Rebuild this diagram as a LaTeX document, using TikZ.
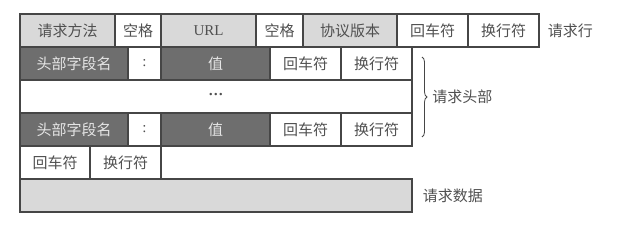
\documentclass[tikz,border=0pt]{standalone}
\usepackage{fontspec}
\setmainfont{Liberation Serif}
\newfontfamily\cjk{Noto Sans CJK SC}
\usetikzlibrary{positioning, decorations.pathreplacing}
\definecolor{linegray}{RGB}{70,70,70}
\definecolor{textgray}{RGB}{80,80,80}
\definecolor{cellgray}{RGB}{217,217,217}
\definecolor{darkcell}{RGB}{110,110,110}
\tikzset{
  cell/.style={rectangle, draw=linegray, line width=1.3pt, inner sep=0pt,
               minimum height=33pt, font=\fontsize{15}{17}\selectfont\cjk,
               text=textgray},
  lcell/.style={cell, fill=cellgray},
  dcell/.style={cell, fill=darkcell, text=white!90!black},
  wcell/.style={cell, fill=white},
  side/.style={inner sep=0pt, font=\fontsize{15}{17}\selectfont\cjk,
               text=textgray},
  brace/.style={decorate, decoration={brace, amplitude=5pt},
                line width=0.8pt, draw=linegray},
}

\begin{document}
\begin{tikzpicture}[x=1pt, y=-1pt]
  \useasboundingbox (0,0) rectangle (624,238);
  % request line
  \foreach \nm/\xa/\xb/\st/\txt in {rm/20/115/lcell/请求方法, spa/115/161/wcell/空格,
      url/161/256/lcell/{\rmfamily URL}, spb/256/303/wcell/空格,
      ver/303/397/lcell/协议版本, cr/397/468/wcell/回车符, lf/468/539/wcell/换行符}
    \node[\st, minimum width={(\xb-\xa)*1pt}] (\nm) at ({(\xa+\xb)/2},30.5) {\txt};
  \node[side, right=8pt of lf] (reqline) {请求行};
  % header lines
  \foreach \r/\y in {ha/63.5, hb/129.5} {
    \foreach \nm/\xa/\xb/\st/\txt in {key/20/128/dcell/头部字段名,
        colon/128/161/wcell/{\rmfamily :}, val/161/270/dcell/值,
        cr/270/341/wcell/回车符, lf/341/412/wcell/换行符}
      \node[\st, minimum width={(\xb-\xa)*1pt}] (\r-\nm) at ({(\xa+\xb)/2},\y) {\txt};
  }
  \node[wcell, minimum width=392pt] (dots) at (216,96.5) {\rmfamily\bfseries ···};
  % header brace
  \coordinate (bt) at (422,57);
  \coordinate (bb) at (422,137);
  \draw[brace] (bt) -- (bb)
        node[side, midway, right=10pt] (hdrlbl) {请求头部};
  % empty line
  \node[wcell, minimum width=70pt] (ecr) at (55,162.5) {回车符};
  \node[wcell, minimum width=71pt] (elf) at (125.5,162.5) {换行符};
  % request body
  \node[lcell, minimum width=392pt] (body) at (216,195.5) {};
  \node[side, right=10pt of body] (bodylbl) {请求数据};
\end{tikzpicture}
\end{document}
